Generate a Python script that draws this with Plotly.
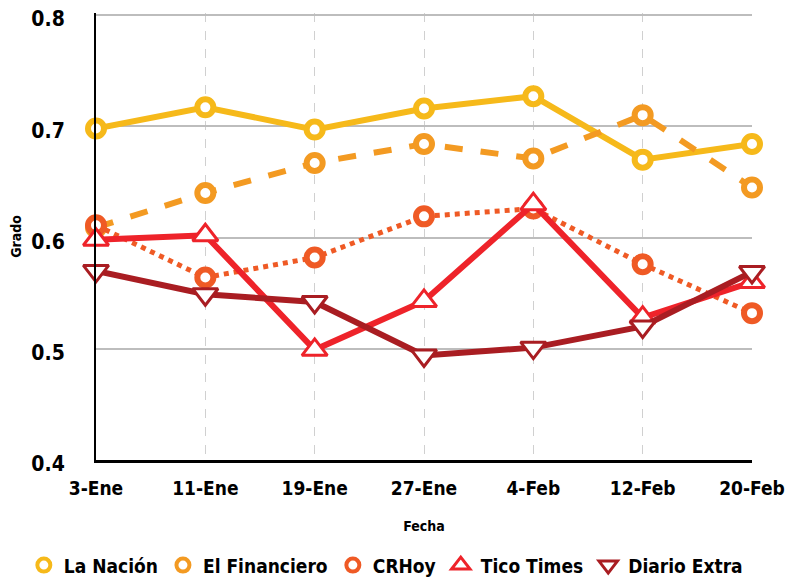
import plotly.graph_objects as go

fechas = ["3-Ene", "11-Ene", "19-Ene", "27-Ene", "4-Feb", "12-Feb", "20-Feb"]
la_nacion = [0.698, 0.717, 0.697, 0.716, 0.727, 0.670, 0.684]
el_financiero = [0.609, 0.640, 0.667, 0.684, 0.671, 0.710, 0.645]
crhoy = [0.611, 0.564, 0.582, 0.619, 0.626, 0.576, 0.532]
tico_times = [0.598, 0.602, 0.499, 0.543, 0.630, 0.528, 0.560]
diario_extra = [0.570, 0.549, 0.542, 0.494, 0.501, 0.520, 0.569]
y_ticks = [0.4, 0.5, 0.6, 0.7, 0.8]

FONT = "DejaVu Sans Condensed"

series = [
    ("La Nación", la_nacion, "#F6B91A", "solid", "circle"),
    ("El Financiero", el_financiero, "#F39A22", "dash", "circle"),
    ("CRHoy", crhoy, "#EF5A25", "dot", "circle"),
    ("Tico Times", tico_times, "#EE232A", "solid", "triangle-up"),
    ("Diario Extra", diario_extra, "#A91D22", "solid", "triangle-down"),
]

fig = go.Figure()
for name, vals, color, dash, sym in series:
    if sym == "circle":
        marker = dict(symbol="circle", size=16, color="white",
                      line=dict(color=color, width=6))
    else:
        marker = dict(symbol=sym, size=22, color="white",
                      line=dict(color=color, width=3))
    fig.add_trace(go.Scatter(
        x=fechas, y=vals, name=name, mode="lines+markers",
        line=dict(color=color, width=6 if dash != "dot" else 5, dash=dash),
        marker=marker, cliponaxis=False, showlegend=False,
    ))
    lm = dict(marker)
    lm["size"] = 13 if sym == "circle" else 16
    lm["line"] = dict(color=color, width=4 if sym == "circle" else 3)
    fig.add_trace(go.Scatter(
        x=[None], y=[None], name=name, mode="markers", marker=lm, showlegend=True,
    ))

# page body has an 8px margin, so the figure is sized to fit the 806x583 window
fig.update_layout(
    width=798, height=575,
    margin=dict(l=88, r=54, t=5, b=123, autoexpand=False),
    paper_bgcolor="white", plot_bgcolor="white",
    font=dict(family=FONT, color="black", size=18),
    legend=dict(orientation="h", x=-0.11, xanchor="left", y=-0.193, yanchor="top",
                font=dict(family=FONT, size=19, color="black", weight="bold"),
                itemwidth=30, tracegroupgap=0),
    xaxis=dict(
        type="category", range=[0, 6], automargin=False,
        showgrid=True, gridcolor="#D0D0D0", griddash="dash", gridwidth=1,
        showline=True, linecolor="black", linewidth=3,
        ticks="", tickfont=dict(family=FONT, size=19, color="black", weight="bold"),
        ticklabelstandoff=9, ticklabeloverflow="allow",
        title=dict(text="Fecha", font=dict(family=FONT, size=14, color="black", weight="bold"), standoff=24),
    ),
    yaxis=dict(
        range=[0.4, 0.8018], tickmode="array", tickvals=y_ticks,
        ticktext=[f"{v:.1f}" for v in y_ticks], automargin=False,
        showgrid=True, gridcolor="#BDBDBD", gridwidth=2,
        showline=True, linecolor="black", linewidth=2,
        zeroline=False,
        ticks="", tickfont=dict(family=FONT, size=21, color="black", weight="bold"),
        ticklabelstandoff=25, ticklabeloverflow="allow", ticklabelshift=4,
        title=dict(text="Grado", font=dict(family=FONT, size=14, color="black", weight="bold"), standoff=9),
    ),
)

fig.write_html("out.html")
